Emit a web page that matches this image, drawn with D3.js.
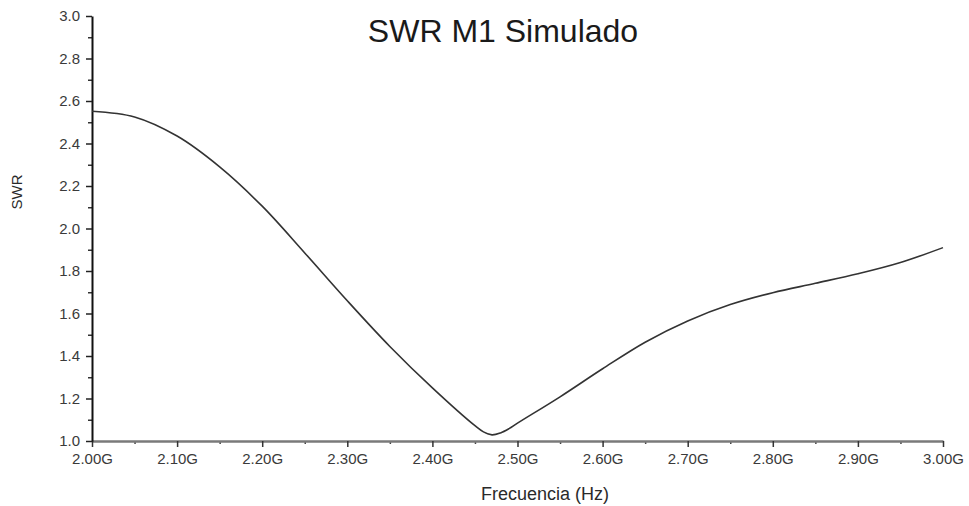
<!DOCTYPE html>
<html>
<head>
<meta charset="utf-8">
<script src="https://cdn.jsdelivr.net/npm/d3@7"></script>
<style>
  html, body { margin: 0; padding: 0; background: #fff; }
  svg { display: block; font-family: "Liberation Sans", Arial, sans-serif; }
</style>
</head>
<body>
<div id="chart"></div>
<script>
// Simulated SWR curve, frequency in GHz
const freqGHz = [2.00, 2.05, 2.10, 2.15, 2.20, 2.25, 2.30, 2.35, 2.40, 2.45, 2.46, 2.47, 2.48, 2.49, 2.50, 2.55, 2.60, 2.65, 2.70, 2.75, 2.80, 2.85, 2.90, 2.95, 3.00];
const swrValues = [2.552, 2.525, 2.435, 2.29, 2.105, 1.885, 1.66, 1.445, 1.25, 1.072, 1.043, 1.029, 1.038, 1.058, 1.084, 1.208, 1.34, 1.465, 1.565, 1.642, 1.698, 1.742, 1.787, 1.84, 1.91];

const xTicks = [2.0, 2.1, 2.2, 2.3, 2.4, 2.5, 2.6, 2.7, 2.8, 2.9, 3.0];
const xMinorTicks = [2.05, 2.15, 2.25, 2.35, 2.45, 2.55, 2.65, 2.75, 2.85, 2.95];
const yTicks = [1.0, 1.2, 1.4, 1.6, 1.8, 2.0, 2.2, 2.4, 2.6, 2.8, 3.0];
const yMinorTicks = [1.1, 1.3, 1.5, 1.7, 1.9, 2.1, 2.3, 2.5, 2.7, 2.9];

const chartTitle = 'SWR M1 Simulado';
const xLabel = 'Frecuencia (Hz)';
const yLabel = 'SWR';

const width = 969, height = 506;
const margin = { top: 16, right: 26, bottom: 65, left: 92 };

const svg = d3.select('#chart').append('svg')
  .attr('width', width)
  .attr('height', height);

const x = d3.scaleLinear()
  .domain([2.0, 3.0])
  .range([margin.left, width - margin.right]);

const y = d3.scaleLinear()
  .domain([1.0, 3.0])
  .range([height - margin.bottom, margin.top]);

const data = freqGHz.map((f, i) => ({ f: f, v: swrValues[i] }));

// X axis (minor first, then major)
svg.append('g')
  .attr('transform', `translate(0,${y(1.0)})`)
  .call(d3.axisBottom(x).tickValues(xMinorTicks).tickSize(3).tickFormat(() => ''))
  .call(g => g.select('.domain').remove())
  .selectAll('line').style('stroke', '#444').style('stroke-width', 1.5);

const xAxis = svg.append('g')
  .attr('transform', `translate(0,${y(1.0)})`)
  .call(d3.axisBottom(x).tickValues(xTicks).tickSizeInner(6).tickSizeOuter(0).tickPadding(6)
    .tickFormat(d => d.toFixed(2) + 'G'));
xAxis.select('.domain').style('stroke', '#7a7a7a').style('stroke-width', 2.5);
xAxis.selectAll('line').style('stroke', '#333').style('stroke-width', 1.5);
xAxis.selectAll('text').style('fill', '#3a3a3a').style('font-size', '15px');

// Y axis
svg.append('g')
  .attr('transform', `translate(${x(2.0)},0)`)
  .call(d3.axisLeft(y).tickValues(yMinorTicks).tickSize(4).tickFormat(() => ''))
  .call(g => g.select('.domain').remove())
  .selectAll('line').style('stroke', '#333').style('stroke-width', 1.5);

const yAxis = svg.append('g')
  .attr('transform', `translate(${x(2.0)},0)`)
  .call(d3.axisLeft(y).tickValues(yTicks).tickSizeInner(6).tickSizeOuter(0).tickPadding(6)
    .tickFormat(d => d.toFixed(1)));
yAxis.select('.domain').style('stroke', '#111').style('stroke-width', 2);
yAxis.selectAll('line').style('stroke', '#222').style('stroke-width', 1.5);
yAxis.selectAll('text').style('fill', '#3a3a3a').style('font-size', '15px');

// Curve
svg.append('path')
  .datum(data)
  .attr('fill', 'none')
  .attr('stroke', '#333')
  .attr('stroke-width', 1.6)
  .attr('d', d3.line()
    .x(d => x(d.f))
    .y(d => y(d.v))
    .curve(d3.curveCatmullRom.alpha(0.5)));

// Titles
svg.append('text')
  .attr('x', 503)
  .attr('y', 42)
  .attr('text-anchor', 'middle')
  .style('font-size', '32px')
  .style('fill', '#1a1a1a')
  .text(chartTitle);

svg.append('text')
  .attr('x', 545)
  .attr('y', 500)
  .attr('text-anchor', 'middle')
  .style('font-size', '18px')
  .style('fill', '#2a2a2a')
  .text(xLabel);

svg.append('text')
  .attr('transform', 'translate(22,192) rotate(-90)')
  .attr('text-anchor', 'middle')
  .style('font-size', '15px')
  .style('fill', '#2a2a2a')
  .text(yLabel);
</script>
</body>
</html>
